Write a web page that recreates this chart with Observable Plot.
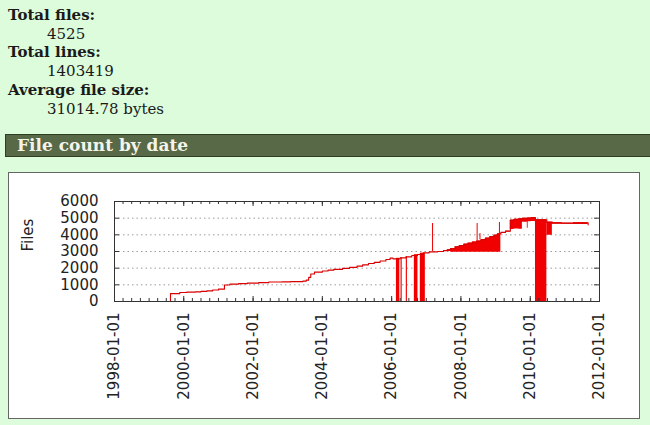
<!DOCTYPE html>
<html><head><meta charset="utf-8">
<script src="https://cdn.jsdelivr.net/npm/d3@7"></script>
<script src="https://cdn.jsdelivr.net/npm/@observablehq/plot@0.6"></script>
<style>
html,body{margin:0;padding:0;background:#dcfcdc;}
body{width:650px;height:425px;overflow:hidden;position:relative;font-family:"DejaVu Serif",serif;}
dl{margin:0;position:absolute;left:8px;top:6px;font-size:15px;line-height:18.7px;color:#1a1a1a;}
dt{font-weight:bold;}
dd{margin:0 0 0 39px;}
h2{position:absolute;left:5px;top:134px;width:670px;height:23px;margin:0;background:#576946;border:1px solid #2e3d24;color:#f4f4ea;font-family:"DejaVu Serif",serif;font-size:17px;font-weight:bold;line-height:21px;padding-left:11px;box-sizing:border-box;}
#box{position:absolute;left:8px;top:172px;width:632px;height:247px;background:#fff;border:1px solid #666;box-sizing:border-box;}
#box svg{display:block;}
</style>
</head><body>
<dl>
<dt>Total files:</dt><dd>4525</dd>
<dt>Total lines:</dt><dd>1403419</dd>
<dt>Average file size:</dt><dd>31014.78 bytes</dd>
</dl>
<h2>File count by date</h2>
<div id="box"></div>
<script>
// main series (step-after): date, file count, lower envelope of the dense oscillation
const dates = ["1999-08-13","1999-08-14","1999-11-20","2000-02-01","2000-05-01","2000-07-01","2000-09-01","2000-11-01","2001-01-01","2001-03-05","2001-05-01","2001-08-01","2001-11-01","2002-03-01","2002-06-15","2002-11-01","2003-02-01","2003-06-10","2003-07-15","2003-08-10","2003-09-01","2003-10-10","2004-01-01","2004-03-01","2004-05-01","2004-08-01","2004-10-15","2005-01-01","2005-03-01","2005-05-01","2005-07-01","2005-09-01","2005-11-01","2005-12-15","2006-01-15","2006-04-01","2006-06-01","2006-08-01","2006-10-01","2006-12-01","2007-02-01","2007-05-01","2007-07-01","2007-08-10","2007-09-15","2007-11-01","2007-12-15","2008-02-01","2008-03-15","2008-05-01","2008-06-15","2008-08-01","2008-09-15","2008-11-01","2008-12-15","2009-01-20","2009-02-25","2009-04-15","2009-06-05","2009-07-15","2009-09-01","2009-10-10","2009-12-01","2009-12-10","2010-01-10","2010-02-25","2010-06-25","2010-08-22","2010-12-01","2011-04-01","2011-09-03"];
const files = [0,470,540,560,580,610,640,690,740,990,1040,1070,1100,1130,1170,1180,1190,1220,1280,1450,1650,1760,1830,1880,1930,1990,2050,2120,2200,2280,2350,2430,2520,2600,2560,2620,2680,2760,2820,2920,2980,3000,3050,3100,3180,3280,3360,3440,3500,3570,3630,3720,3800,3890,3980,4060,4150,4220,4880,4930,4960,4990,5010,5010,5030,4900,4760,4720,4700,4720,4600];
const filesLow = [0,470,540,560,580,610,640,690,740,990,1040,1070,1100,1130,1170,1180,1190,1220,1280,1450,1650,1760,1830,1880,1930,1990,2050,2120,2200,2280,2350,2430,2520,2600,2560,2620,2680,2760,2820,2920,2980,3000,3050,3000,2960,2960,2960,2960,2960,2960,2960,2960,2960,2960,2960,2960,4150,4170,4320,4350,4330,4760,4400,4780,4800,4700,3970,4640,4630,4620,4600];
// drops to zero
const dropStart = ["2006-02-20","2006-04-10","2006-06-04","2006-08-28","2006-10-30","2010-02-25"];
const dropEnd   = ["2006-03-28","2006-04-22","2006-06-16","2006-10-05","2006-12-22","2010-06-25"];
const dropTop   = [2590,2630,2690,2810,2900,4850];
// isolated peaks
const peakDates = ["2007-03-08","2008-06-20","2008-07-20","2009-02-10"];
const peakBase  = [2990,3640,3700,4080];
const peakTop   = [4680,4680,4070,4740];
// axes
const xTickLabels = ["1998-01-01","2000-01-01","2002-01-01","2004-01-01","2006-01-01","2008-01-01","2010-01-01","2012-01-01"];
const yTicks = [0,1000,2000,3000,4000,5000,6000];
const yGrid = [1000,2000,3000,4000,5000];

const P = d => new Date(d + "T00:00:00Z");
const series = dates.map((d,i) => ({date: P(d), hi: files[i], lo: filesLow[i]}));
const drops = dropStart.map((d,i) => ({x1: P(d), x2: P(dropEnd[i]), y: dropTop[i]}));
const peaks = peakDates.map((d,i) => ({date: P(d), y1: peakBase[i], y2: peakTop[i]}));
const xTicks = xTickLabels.map(P);
const xMinor = d3.utcMonth.every(3).range(xTicks[0], xTicks[xTicks.length-1]);

const W = 630, H = 245, mL = 105, mR = 40, mT = 28, mB = 117;
const pw = W - mL - mR, ph = H - mT - mB;
const red = "#f00000";

const chart = Plot.plot({
  width: W, height: H,
  marginLeft: mL, marginRight: mR, marginTop: mT, marginBottom: mB,
  style: {fontFamily: "DejaVu Sans", fontSize: "15px", color: "#222", background: "#fff", overflow: "visible"},
  x: {type: "utc", domain: [xTicks[0], xTicks[xTicks.length-1]]},
  y: {domain: [0, 6000]},
  marks: [
    Plot.ruleY(yGrid, {y: d => d, stroke: "#9a9a9a", strokeDasharray: "1.5,3"}),
    Plot.areaY(series, {x: "date", y1: "lo", y2: "hi", fill: red, curve: "step-after"}),
    Plot.rectY(drops, {x1: "x1", x2: "x2", y1: 0, y2: "y", fill: red}),
    Plot.ruleX(peaks, {x: "date", y1: "y1", y2: "y2", stroke: red, strokeWidth: 1}),
    Plot.lineY(series, {x: "date", y: "hi", stroke: "#d80000", strokeWidth: 1.1, curve: "step-after"}),
    Plot.tickY(yTicks, {y: d => d, insetRight: pw - 5, stroke: "#333"}),
    Plot.tickY(yTicks, {y: d => d, insetLeft: pw - 5, stroke: "#333"}),
    Plot.tickX(xMinor, {x: d => d, insetTop: ph - 3, stroke: "#333"}),
    Plot.tickX(xMinor, {x: d => d, insetBottom: ph - 3, stroke: "#333"}),
    Plot.tickX(xTicks, {x: d => d, insetTop: ph - 5, stroke: "#333"}),
    Plot.tickX(xTicks, {x: d => d, insetBottom: ph - 5, stroke: "#333"}),
    Plot.frame({stroke: "#333"}),
    Plot.axisY(yTicks, {tickSize: 0, tickPadding: 16, tickFormat: d => String(d), label: null, fontSize: 15}),
    Plot.axisX(xTicks, {tickSize: 0, tickPadding: 11, tickRotate: -90, tickFormat: d3.utcFormat("%Y-%m-%d"), label: null, fontSize: 15}),
    Plot.text(["Files"], {frameAnchor: "left", dx: -86, rotate: -90, fontSize: 15, fill: "#222"})
  ]
});
document.getElementById("box").appendChild(chart);
</script>
</body></html>
